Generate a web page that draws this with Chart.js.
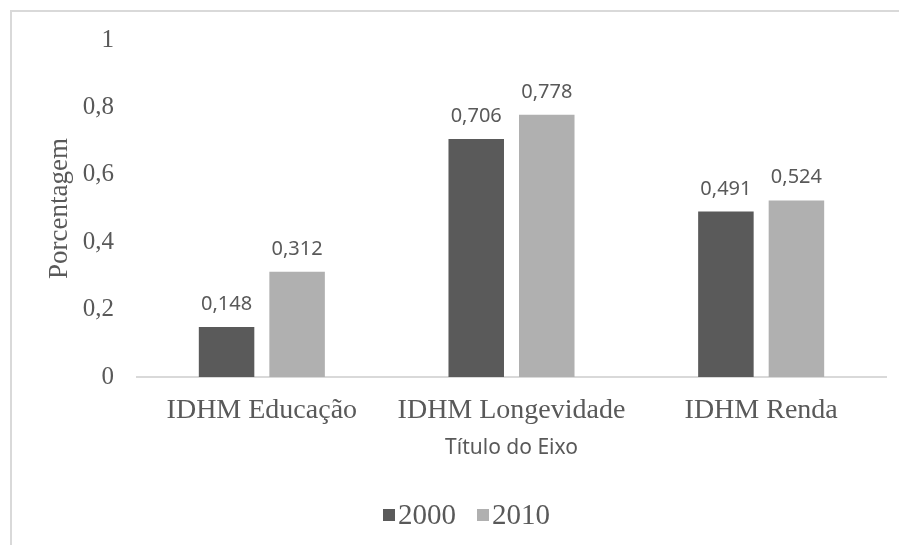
<!DOCTYPE html>
<html>
<head>
<meta charset="utf-8">
<script src="https://cdn.jsdelivr.net/npm/chart.js@4/dist/chart.umd.min.js"></script>
<style>
  html, body { margin: 0; padding: 0; background: #fff; }
  #wrap { position: relative; width: 899px; height: 545px; }
  #frame {
    position: absolute; left: 10px; top: 10px; right: 0; bottom: 0;
    border-top: 2px solid #d9d9d9; border-left: 2px solid #d9d9d9;
    pointer-events: none;
  }
</style>
</head>
<body>
<div id="wrap">
  <canvas id="chart" width="899" height="545"></canvas>
  <div id="frame"></div>
</div>
<script>
const categories = ["IDHM Educação", "IDHM Longevidade", "IDHM Renda"];
const series2000 = [0.148, 0.706, 0.491];
const series2010 = [0.312, 0.778, 0.524];
const yTickLabels = ["0", "0,2", "0,4", "0,6", "0,8", "1"];

const serif = "'Liberation Serif', 'Times New Roman', serif";
const sans = "'Noto Sans', sans-serif";
const textGray = "#595959";

const fmt = (v) => String(v).replace(".", ",");

// value labels above every bar
const valueLabels = {
  id: "valueLabels",
  afterDatasetsDraw(chart) {
    const ctx = chart.ctx;
    ctx.save();
    ctx.font = "20px " + sans;
    ctx.fillStyle = textGray;
    ctx.textAlign = "center";
    ctx.textBaseline = "alphabetic";
    chart.data.datasets.forEach((ds, i) => {
      chart.getDatasetMeta(i).data.forEach((bar, j) => {
        ctx.fillText(fmt(ds.data[j]), bar.x, bar.y - 17);
      });
    });
    ctx.restore();
  },
};

// compact legend: small square tight against the label
const squareLegend = {
  id: "squareLegend",
  afterDraw(chart) {
    const ctx = chart.ctx;
    ctx.save();
    ctx.font = "29px " + serif;
    ctx.textBaseline = "middle";
    ctx.textAlign = "left";
    let x = 383;
    const y = 515;
    chart.data.datasets.forEach((ds) => {
      ctx.fillStyle = ds.backgroundColor;
      ctx.fillRect(x, y - 6, 12, 12);
      ctx.fillStyle = textGray;
      ctx.fillText(ds.label, x + 15, y + 1);
      x += 15 + ctx.measureText(ds.label).width + 21;
    });
    ctx.restore();
  },
};

new Chart(document.getElementById("chart"), {
  type: "bar",
  data: {
    labels: categories,
    datasets: [
      { label: "2000", data: series2000, backgroundColor: "#5a5a5a" },
      { label: "2010", data: series2010, backgroundColor: "#b0b0b0" },
    ],
  },
  options: {
    responsive: false,
    animation: false,
    events: [],
    categoryPercentage: 0.565,
    barPercentage: 0.787,
    layout: { padding: { left: 12, right: 13, top: 40, bottom: 60 } },
    scales: {
      y: {
        min: 0,
        max: 1,
        ticks: {
          stepSize: 0.2,
          padding: 23,
          color: textGray,
          font: { family: serif, size: 25 },
          callback: (value, index) => yTickLabels[index],
        },
        grid: { display: false, drawTicks: false },
        border: { display: false },
        title: {
          display: true,
          text: "Porcentagem",
          color: textGray,
          font: { family: serif, size: 27 },
          padding: { top: 32, bottom: 0 },
        },
        afterFit: (scale) => { scale.width = 125; },
      },
      x: {
        ticks: {
          padding: 17,
          color: textGray,
          font: { family: serif, size: 28 },
        },
        grid: { display: false, drawTicks: false },
        border: { display: true, color: "#d9d9d9", width: 2 },
        title: {
          display: true,
          text: "Título do Eixo",
          color: textGray,
          font: { family: sans, size: 21 },
          padding: { top: 4, bottom: 24 },
        },
        afterFit: (scale) => { scale.height = 108; },
      },
    },
    plugins: {
      legend: { display: false },
      tooltip: { enabled: false },
    },
  },
  plugins: [valueLabels, squareLegend],
});
</script>
</body>
</html>
